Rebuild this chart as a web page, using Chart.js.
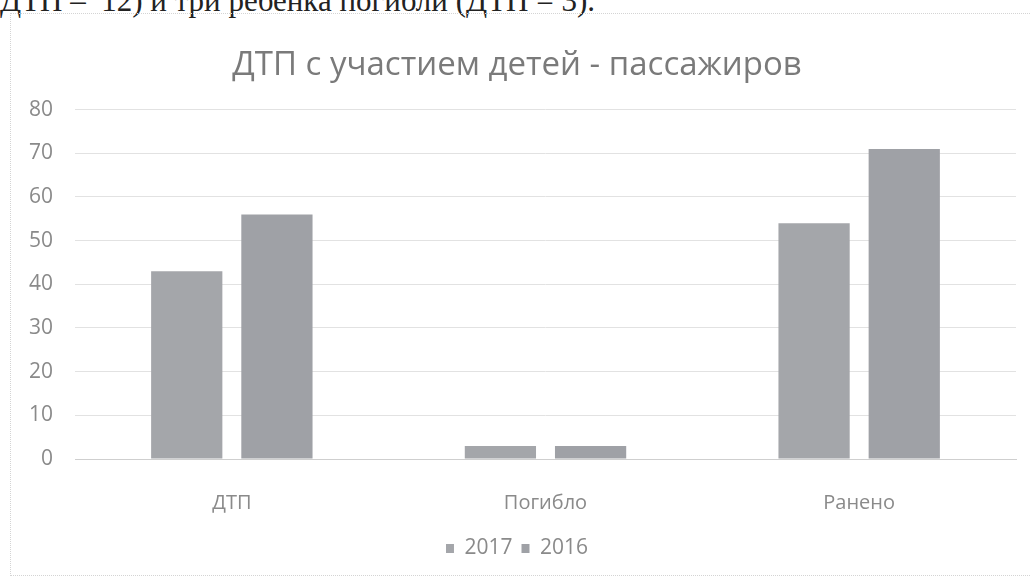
<!DOCTYPE html>
<html>
<head>
<meta charset="utf-8">
<script src="https://cdn.jsdelivr.net/npm/chart.js@4/dist/chart.umd.min.js"></script>
<style>
  html, body { margin: 0; padding: 0; background: #fff; overflow: hidden; }
  #wrap { position: relative; width: 1031px; height: 581px; }
  #doc { position: absolute; left: 0; top: -17px; font-family: "Liberation Serif", serif; font-size: 31px; color: #222; white-space: nowrap; }
  #frame { position: absolute; left: 10px; top: 13px; width: 1030px; height: 563px; border: 1px dotted #d4d4d4; box-sizing: border-box; }
  canvas { position: absolute; left: 0; top: 0; }
</style>
</head>
<body>
<div id="wrap">
  <div id="doc">ДТП – &nbsp;12) и три ребенка погибли (ДТП = 3).</div>
  <div id="frame"></div>
  <canvas id="barChart" width="1031" height="581"></canvas>
</div>
<script>
const categories = ['ДТП', 'Погибло', 'Ранено'];
const series2017 = [43, 3, 54];
const series2016 = [56, 3, 71];
const seriesNames = ['2017', '2016'];

const grey = '#8a8a8a';

window.renderBarChart = () => {
    const ctx = document.getElementById('barChart');

    const data = {
        labels: categories,
        datasets: [
            { label: seriesNames[0], data: series2017, backgroundColor: '#a4a6aa' },
            { label: seriesNames[1], data: series2016, backgroundColor: '#9fa1a6' }
        ]
    };

    const config = {
        type: 'bar',
        data: data,
        options: {
            responsive: false,
            animation: false,
            layout: { padding: { left: 18, right: 15, top: 46, bottom: 12 } },
            datasets: { bar: { categoryPercentage: 0.575, barPercentage: 0.79 } },
            scales: {
                x: {
                    grid: { display: false },
                    border: { color: '#cfcfcf' },
                    ticks: { color: grey, font: { family: 'Open Sans', size: 20 }, padding: 24 },
                    afterFit: s => { s.height = 70; }
                },
                y: {
                    min: 0, max: 80,
                    ticks: { stepSize: 10, color: grey, font: { family: 'Open Sans', size: 21 }, padding: 22 },
                    grid: { color: '#e2e2e2', drawTicks: false },
                    border: { display: false },
                    afterFit: s => { s.width = 57; }
                }
            },
            plugins: {
                legend: {
                    position: 'bottom',
                    labels: { boxWidth: 8, boxHeight: 9, color: grey, font: { family: 'Open Sans', size: 21 }, padding: 9 }
                },
                title: {
                    display: true,
                    text: 'ДТП с участием детей - пассажиров',
                    color: '#7a7a7a',
                    font: { family: 'Open Sans', size: 33, weight: 'normal' },
                    padding: { top: 0, bottom: 24 }
                },
                tooltip: { enabled: false }
            }
        }
    };

    window.myBarInstance = new Chart(ctx, config);
};

window.renderBarChart();
</script>
</body>
</html>
